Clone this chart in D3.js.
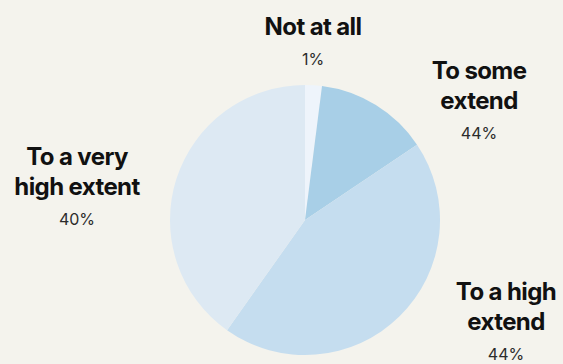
<!DOCTYPE html>
<html>
<head>
<meta charset="utf-8">
<script src="https://cdn.jsdelivr.net/npm/d3@7/dist/d3.min.js"></script>
<style>
  html, body { margin: 0; padding: 0; background: #f4f3ed; }
  svg { display: block; }
  .title { font-family: Inter, "Noto Sans", sans-serif; font-weight: 700; font-size: 24px; fill: #111; letter-spacing: -0.6px; }
  .share { font-family: Inter, "Noto Sans", sans-serif; font-weight: 400; font-size: 16px; fill: #2b2b2b; }
</style>
</head>
<body>
<svg id="chart" width="563" height="364"></svg>
<script>
// Survey answers, in clockwise order from 12 o'clock
const categories = ["Not at all", "To some extend", "To a high extend", "To a very high extent"];
// Slice sizes (percent of respondents)
const values = [2, 13.5, 44, 40];
// Percentage text printed under each answer
const shareLabels = ["1%", "44%", "44%", "40%"];
const colors = ["#eef4fb", "#a8cfe7", "#c5ddef", "#dde9f3"];

const width = 563, height = 364;
const cx = 305, cy = 220, radius = 135;

const svg = d3.select("#chart");
svg.append("rect").attr("width", width).attr("height", height).attr("fill", "#f4f3ed");

const pie = d3.pie().sort(null).value(d => d.value);
const arc = d3.arc().innerRadius(0).outerRadius(radius);

const data = categories.map((c, i) => ({ name: c, value: values[i], share: shareLabels[i], color: colors[i] }));
const arcs = pie(data);

const g = svg.append("g").attr("transform", `translate(${cx},${cy})`);
g.selectAll("path")
  .data(arcs)
  .join("path")
  .attr("d", arc)
  .attr("fill", d => d.data.color);

// Label blocks: title lines plus percentage, anchored around the pie
const labelLayout = [
  { x: 313, y: 35, lines: ["Not at all"] },
  { x: 479, y: 79, lines: ["To some", "extend"] },
  { x: 506, y: 300, lines: ["To a high", "extend"] },
  { x: 77, y: 165, lines: ["To a very", "high extent"] }
];
const lineGap = 30;

arcs.forEach((a, i) => {
  const L = labelLayout[i];
  const t = svg.append("g").attr("transform", `translate(${L.x},${L.y})`);
  L.lines.forEach((ln, j) => {
    t.append("text").attr("class", "title").attr("text-anchor", "middle")
      .attr("y", j * lineGap).text(ln);
  });
  t.append("text").attr("class", "share").attr("text-anchor", "middle")
    .attr("y", (L.lines.length - 1) * lineGap + 30)
    .text(a.data.share);
});
</script>
</body>
</html>
